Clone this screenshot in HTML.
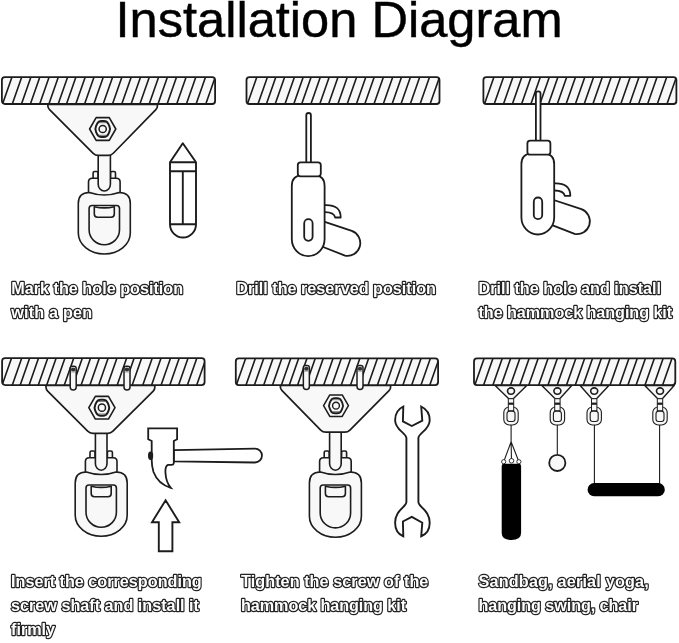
<!DOCTYPE html>
<html><head><meta charset="utf-8"><style>
html,body{margin:0;padding:0;background:#fff;width:679px;height:643px;overflow:hidden}
svg{display:block;will-change:transform}
.lb{font-family:"Liberation Sans",sans-serif;font-weight:bold;font-size:16.2px;fill:#fff;stroke:#222;stroke-width:2.4px;paint-order:stroke fill;stroke-linejoin:round}
</style></head><body>
<svg width="679" height="643" viewBox="0 0 679 643">
<defs><clipPath id="c0"><rect x="1.9" y="77.10000000000001" width="213.2" height="26.900000000000002" rx="3"/></clipPath><clipPath id="c1"><rect x="246.5" y="77.10000000000001" width="192.99999999999997" height="26.900000000000002" rx="3"/></clipPath><clipPath id="c2"><rect x="483.4" y="77.10000000000001" width="192.99999999999994" height="26.900000000000002" rx="3"/></clipPath><clipPath id="c3"><rect x="2.1" y="358.09999999999997" width="202.5" height="27.00000000000001" rx="3"/></clipPath><clipPath id="c4"><rect x="235.8" y="358.4" width="202.29999999999998" height="26.7" rx="3"/></clipPath><clipPath id="c5"><rect x="474.0" y="358.4" width="201.3" height="26.7" rx="3"/></clipPath></defs>
<text x="115.5" y="37" style="font-family:'Liberation Sans',sans-serif;font-size:50.6px" fill="#000" stroke="#000" stroke-width="0.45">Installation Diagram</text>
<g stroke="#1c1c1c" stroke-width="1.6" fill="#f8f8f8" stroke-linejoin="round"><path d="M78.3 203.5 Q78.3 192.5 89.3 192.5 L119.30000000000001 192.5 Q130.3 192.5 130.3 203.5 L130.3 233.0 A26 21 0 0 1 78.3 233.0 Z"/><path d="M89.1 208.5 Q89.1 205.5 92.1 205.5 L116.5 205.5 Q119.5 205.5 119.5 208.5 L119.5 229.7 A15.2 15 0 0 1 89.1 229.7 Z" fill="#f8f8f8"/><path d="M94.3 206.7 Q104.3 209.1 114.3 206.7 L114.3 214.0 Q114.3 217.2 111.1 217.2 L97.5 217.2 Q94.3 217.2 94.3 214.0 Z" fill="#f8f8f8"/><rect x="93.1" y="171.5" width="5" height="9" rx="1.5"/><rect x="110.5" y="171.5" width="5" height="9" rx="1.5"/><path d="M88.5 192.2 L88.5 182.0 Q88.5 178.2 92.3 178.2 L116.3 178.2 Q120.1 178.2 120.1 182.0 L120.1 192.2 Q104.3 197.7 88.5 192.2Z"/><path d="M98.2 150 L98.2 184.3 A6.1 6.71 0 0 0 110.39999999999999 184.3 L110.39999999999999 150" /></g>
<path d="M47.80 104.50Q47.80 104.50 47.80 104.50L157.40 104.50Q157.40 104.50 157.40 104.50L157.40 106.25Q157.40 108.00 155.86 109.58L113.29 153.25Q111.20 155.40 108.20 155.40L98.30 155.40Q95.30 155.40 93.18 153.28L49.55 109.56Q48.00 108.00 47.90 106.25Z" fill="#f8f8f8" stroke="#1c1c1c" stroke-width="1.7" stroke-linejoin="round"/>
<path d="M89.60 129.00L96.15 117.65L109.25 117.65L115.80 129.00L109.25 140.35L96.15 140.35Z" fill="#f8f8f8" stroke="#1c1c1c" stroke-width="1.6" stroke-linejoin="round"/>
<path d="M96.04 131.90Q94.70 129.00 96.04 126.10L97.06 123.90Q98.40 121.00 101.60 121.00L103.80 121.00Q107.00 121.00 108.34 123.90L109.36 126.10Q110.70 129.00 109.36 131.90L108.34 134.10Q107.00 137.00 103.80 137.00L101.60 137.00Q98.40 137.00 97.06 134.10Z" fill="#f8f8f8" stroke="#1c1c1c" stroke-width="2.0"/>
<path d="M98.7 122.7H106.7M98.7 135.3H106.7" stroke="#555" stroke-width="0.8"/>
<circle cx="102.7" cy="129.0" r="3.6" fill="#f8f8f8" stroke="#1c1c1c" stroke-width="1.5"/>
<rect x="1.9" y="77.10000000000001" width="213.2" height="26.900000000000002" rx="3" fill="#f8f8f8"/>
<path clip-path="url(#c0)" d="M1.18 107.90L13.32 73.20M10.93 107.90L23.07 73.20M20.13 107.90L32.27 73.20M29.03 107.90L41.17 73.20M38.33 107.90L50.47 73.20M47.53 107.90L59.67 73.20M56.83 107.90L68.97 73.20M65.13 107.90L77.27 73.20M74.43 107.90L86.58 73.20M83.23 107.90L95.38 73.20M92.53 107.90L104.67 73.20M101.83 107.90L113.97 73.20M111.13 107.90L123.27 73.20M120.43 107.90L132.58 73.20M129.73 107.90L141.88 73.20M138.53 107.90L150.68 73.20M147.83 107.90L159.98 73.20M156.63 107.90L168.78 73.20M165.73 107.90L177.88 73.20M175.33 107.90L187.48 73.20M185.03 107.90L197.18 73.20M194.73 107.90L206.88 73.20M204.43 107.90L216.58 73.20" stroke="#1c1c1c" stroke-width="1.6" fill="none"/>
<rect x="1.9" y="77.10000000000001" width="213.2" height="26.900000000000002" rx="3" fill="none" stroke="#1c1c1c" stroke-width="1.8"/>
<g stroke="#1c1c1c" stroke-width="1.9" fill="#ffffff" stroke-linejoin="round">
<path d="M170 162.3 L182.8 143.2 L196 162.3 L196 224.2 A13 13.3 0 0 1 170 224.2 Z"/>
<path d="M170 162.3H196M170 171.2H196M170 224.2H196M182.8 171.2V224.2" fill="none"/>
</g>
<rect x="246.5" y="77.10000000000001" width="192.99999999999997" height="26.900000000000002" rx="3" fill="#f8f8f8"/>
<path clip-path="url(#c1)" d="M246.03 107.90L258.18 73.20M256.63 107.90L268.78 73.20M265.03 107.90L277.18 73.20M273.83 107.90L285.98 73.20M283.63 107.90L295.78 73.20M292.43 107.90L304.57 73.20M300.33 107.90L312.48 73.20M309.53 107.90L321.68 73.20M318.43 107.90L330.57 73.20M327.23 107.90L339.38 73.20M336.53 107.90L348.68 73.20M345.83 107.90L357.98 73.20M355.03 107.90L367.18 73.20M363.43 107.90L375.57 73.20M372.63 107.90L384.78 73.20M381.93 107.90L394.07 73.20M390.73 107.90L402.88 73.20M399.63 107.90L411.78 73.20M408.93 107.90L421.07 73.20M418.73 107.90L430.88 73.20M428.73 107.90L440.88 73.20" stroke="#1c1c1c" stroke-width="1.6" fill="none"/>
<rect x="246.5" y="77.10000000000001" width="192.99999999999997" height="26.900000000000002" rx="3" fill="none" stroke="#1c1c1c" stroke-width="1.8"/>
<g transform="translate(0 0)" stroke="#1c1c1c" stroke-width="1.8" fill="#ffffff" stroke-linejoin="round">
<path d="M306.3 163 L306.3 115.3 A2.3 2.3 0 0 1 310.9 115.3 L310.9 163"/>
<path d="M318 219.7 L351.8 230.9 A12.85 12.85 0 0 1 345 255.6 L318 245 Z"/>
<path d="M325 205.1 Q340.7 204.5 340.7 217.5 L335.2 217.5 Q334 212.2 325 212.2" />
<path d="M291.8 186 Q291.8 175.3 302 175.3 L314.5 175.3 Q324.6 175.3 324.6 186 L324.6 239 A16.4 17.2 0 0 1 291.8 239 Z"/>
<rect x="304.2" y="219.2" width="8.4" height="21.6" rx="4.2"/>
<path d="M297.80 165.10Q297.80 162.30 300.60 162.30L318.00 162.30Q320.80 162.30 320.80 165.10L320.80 173.60Q320.80 176.40 318.00 176.40L300.60 176.40Q297.80 176.40 297.80 173.60Z"/>
</g>
<rect x="483.4" y="77.10000000000001" width="192.99999999999994" height="26.900000000000002" rx="3" fill="#f8f8f8"/>
<path clip-path="url(#c2)" d="M483.13 107.90L495.28 73.20M492.83 107.90L504.98 73.20M502.13 107.90L514.27 73.20M511.03 107.90L523.17 73.20M520.23 107.90L532.38 73.20M529.53 107.90L541.67 73.20M538.53 107.90L550.67 73.20M547.13 107.90L559.27 73.20M555.93 107.90L568.07 73.20M564.73 107.90L576.88 73.20M574.03 107.90L586.17 73.20M582.83 107.90L594.97 73.20M591.53 107.90L603.67 73.20M600.43 107.90L612.57 73.20M609.73 107.90L621.88 73.20M619.43 107.90L631.57 73.20M628.23 107.90L640.38 73.20M637.23 107.90L649.38 73.20M646.23 107.90L658.38 73.20M655.93 107.90L668.07 73.20M665.63 107.90L677.77 73.20" stroke="#1c1c1c" stroke-width="1.6" fill="none"/>
<rect x="483.4" y="77.10000000000001" width="192.99999999999994" height="26.900000000000002" rx="3" fill="none" stroke="#1c1c1c" stroke-width="1.8"/>
<g transform="translate(229.6 -21.7)" stroke="#1c1c1c" stroke-width="1.8" fill="#ffffff" stroke-linejoin="round">
<path d="M306.3 163 L306.3 115.3 A2.3 2.3 0 0 1 310.9 115.3 L310.9 163"/>
<path d="M318 219.7 L351.8 230.9 A12.85 12.85 0 0 1 345 255.6 L318 245 Z"/>
<path d="M325 205.1 Q340.7 204.5 340.7 217.5 L335.2 217.5 Q334 212.2 325 212.2" />
<path d="M291.8 186 Q291.8 175.3 302 175.3 L314.5 175.3 Q324.6 175.3 324.6 186 L324.6 239 A16.4 17.2 0 0 1 291.8 239 Z"/>
<rect x="304.2" y="219.2" width="8.4" height="21.6" rx="4.2"/>
<path d="M297.80 165.10Q297.80 162.30 300.60 162.30L318.00 162.30Q320.80 162.30 320.80 165.10L320.80 173.60Q320.80 176.40 318.00 176.40L300.60 176.40Q297.80 176.40 297.80 173.60Z"/>
</g>
<g stroke="#1c1c1c" stroke-width="1.6" fill="#f8f8f8" stroke-linejoin="round"><path d="M75.2 483.0 Q75.2 472.0 86.2 472.0 L116.2 472.0 Q127.2 472.0 127.2 483.0 L127.2 515.3 A26 21 0 0 1 75.2 515.3 Z"/><path d="M86.0 488.0 Q86.0 485.0 89.0 485.0 L113.4 485.0 Q116.4 485.0 116.4 488.0 L116.4 512.3 A15.2 15 0 0 1 86.0 512.3 Z" fill="#f8f8f8"/><path d="M91.2 486.2 Q101.2 488.6 111.2 486.2 L111.2 493.5 Q111.2 496.7 108.0 496.7 L94.4 496.7 Q91.2 496.7 91.2 493.5 Z" fill="#f8f8f8"/><rect x="90.0" y="451.0" width="5" height="9" rx="1.5"/><rect x="107.4" y="451.0" width="5" height="9" rx="1.5"/><path d="M85.4 471.7 L85.4 461.5 Q85.4 457.7 89.2 457.7 L113.2 457.7 Q117.0 457.7 117.0 461.5 L117.0 471.7 Q101.2 477.2 85.4 471.7Z"/><path d="M95.4 430 L95.4 463.8 A5.8 6.38 0 0 0 107.0 463.8 L107.0 430" /></g>
<path d="M45.90 385.50Q45.90 385.50 45.90 385.50L154.80 385.50Q154.80 385.50 154.80 385.50L154.80 387.50Q154.80 389.50 153.24 391.05L112.93 431.18Q110.80 433.30 107.80 433.30L92.80 433.30Q89.80 433.30 87.68 431.18L47.65 391.06Q46.10 389.50 46.00 387.50Z" fill="#f8f8f8" stroke="#1c1c1c" stroke-width="1.7" stroke-linejoin="round"/>
<path d="M88.80 407.70L95.35 396.35L108.45 396.35L115.00 407.70L108.45 419.05L95.35 419.05Z" fill="#f8f8f8" stroke="#1c1c1c" stroke-width="1.6" stroke-linejoin="round"/>
<path d="M95.24 410.60Q93.90 407.70 95.24 404.80L96.26 402.60Q97.60 399.70 100.80 399.70L103.00 399.70Q106.20 399.70 107.54 402.60L108.56 404.80Q109.90 407.70 108.56 410.60L107.54 412.80Q106.20 415.70 103.00 415.70L100.80 415.70Q97.60 415.70 96.26 412.80Z" fill="#f8f8f8" stroke="#1c1c1c" stroke-width="2.0"/>
<path d="M97.9 401.4H105.9M97.9 414.0H105.9" stroke="#555" stroke-width="0.8"/>
<circle cx="101.9" cy="407.7" r="3.6" fill="#f8f8f8" stroke="#1c1c1c" stroke-width="1.5"/>
<rect x="2.1" y="358.09999999999997" width="202.5" height="27.00000000000001" rx="3" fill="#f8f8f8"/>
<path clip-path="url(#c3)" d="M0.73 389.00L12.91 354.20M10.93 389.00L23.11 354.20M18.83 389.00L31.01 354.20M27.73 389.00L39.91 354.20M36.93 389.00L49.11 354.20M45.33 389.00L57.51 354.20M54.13 389.00L66.31 354.20M62.93 389.00L75.11 354.20M71.53 389.00L83.71 354.20M79.73 389.00L91.91 354.20M88.53 389.00L100.71 354.20M97.33 389.00L109.51 354.20M106.13 389.00L118.31 354.20M115.83 389.00L128.01 354.20M123.33 389.00L135.51 354.20M130.83 389.00L143.01 354.20M141.43 389.00L153.61 354.20M150.23 389.00L162.41 354.20M159.73 389.00L171.91 354.20M168.43 389.00L180.61 354.20M177.23 389.00L189.41 354.20M186.03 389.00L198.21 354.20M195.33 389.00L207.51 354.20" stroke="#1c1c1c" stroke-width="1.6" fill="none"/>
<rect x="2.1" y="358.09999999999997" width="202.5" height="27.00000000000001" rx="3" fill="none" stroke="#1c1c1c" stroke-width="1.8"/>
<path d="M70.2 387.0 L70.2 368.4 Q70.2 366.2 72.4 366.2 L74.0 366.2 Q76.2 366.2 76.2 368.4 L76.2 387.0 A3.0 3.0 0 0 1 70.2 387.0Z" fill="#f8f8f8" stroke="#1c1c1c" stroke-width="1.5"/>
<ellipse cx="73.2" cy="369.59999999999997" rx="2.3" ry="2.0" fill="#333" stroke="none"/>
<path d="M70.8 372.0H75.60000000000001" stroke="#777" stroke-width="0.7"/>
<path d="M124.0 387.0 L124.0 368.4 Q124.0 366.2 126.2 366.2 L127.8 366.2 Q130.0 366.2 130.0 368.4 L130.0 387.0 A3.0 3.0 0 0 1 124.0 387.0Z" fill="#f8f8f8" stroke="#1c1c1c" stroke-width="1.5"/>
<ellipse cx="127.0" cy="369.59999999999997" rx="2.3" ry="2.0" fill="#333" stroke="none"/>
<path d="M124.6 372.0H129.4" stroke="#777" stroke-width="0.7"/>
<g stroke="#1c1c1c" stroke-width="1.8" fill="#ffffff" stroke-linejoin="miter">
<path d="M173.8 450.1 L255 448.6 A6.95 6.95 0 0 1 255 462.5 L173.8 461.4 Z" stroke-linejoin="round"/>
<path d="M148.2 428.4 L177.1 428.4 L177.1 439.2 L173.8 441 L173.8 463.1 Q173.5 464.9 171.5 464.9 L168 464.9 Q165.2 466 165.4 472 Q165.8 482 170.8 487.8 Q158 484 153.5 472 Q151.7 466 151.7 460 L151.7 441 L148.2 439.2 Z"/>
<ellipse cx="150.6" cy="455.8" rx="2.6" ry="4.2" fill="#1c1c1c" stroke="none"/>
</g>
<path d="M165.6 500.3 L179.2 522.2 L172.4 522.2 L172.4 551.2 L158.8 551.2 L158.8 522.2 L152 522.2 Z" fill="#fff" stroke="#1c1c1c" stroke-width="1.9" stroke-linejoin="miter"/>
<g stroke="#1c1c1c" stroke-width="1.6" fill="#f8f8f8" stroke-linejoin="round"><path d="M309.4 483.0 Q309.4 472.0 320.4 472.0 L350.4 472.0 Q361.4 472.0 361.4 483.0 L361.4 516.2 A26 21 0 0 1 309.4 516.2 Z"/><path d="M320.2 488.0 Q320.2 485.0 323.2 485.0 L347.59999999999997 485.0 Q350.59999999999997 485.0 350.59999999999997 488.0 L350.59999999999997 512.9 A15.2 15 0 0 1 320.2 512.9 Z" fill="#f8f8f8"/><path d="M325.4 486.2 Q335.4 488.6 345.4 486.2 L345.4 493.5 Q345.4 496.7 342.2 496.7 L328.59999999999997 496.7 Q325.4 496.7 325.4 493.5 Z" fill="#f8f8f8"/><rect x="324.2" y="451.0" width="5" height="9" rx="1.5"/><rect x="341.59999999999997" y="451.0" width="5" height="9" rx="1.5"/><path d="M319.59999999999997 471.7 L319.59999999999997 461.5 Q319.59999999999997 457.7 323.4 457.7 L347.4 457.7 Q351.2 457.7 351.2 461.5 L351.2 471.7 Q335.4 477.2 319.59999999999997 471.7Z"/><path d="M329.59999999999997 430 L329.59999999999997 463.8 A5.8 6.38 0 0 0 341.2 463.8 L341.2 430" /></g>
<path d="M280.30 385.50Q280.30 385.50 280.30 385.50L390.60 385.50Q390.60 385.50 390.60 385.50L390.60 387.25Q390.60 389.00 389.05 390.56L349.91 430.07Q347.80 432.20 344.80 432.20L325.80 432.20Q322.80 432.20 320.70 430.06L282.04 390.57Q280.50 389.00 280.40 387.25Z" fill="#f8f8f8" stroke="#1c1c1c" stroke-width="1.7" stroke-linejoin="round"/>
<path d="M323.56 405.70L329.78 394.92L342.22 394.92L348.44 405.70L342.22 416.48L329.78 416.48Z" fill="#f8f8f8" stroke="#1c1c1c" stroke-width="1.52" stroke-linejoin="round"/>
<path d="M329.68 408.46Q328.40 405.70 329.68 402.94L330.64 400.86Q331.92 398.10 334.96 398.10L337.04 398.10Q340.08 398.10 341.36 400.86L342.32 402.94Q343.60 405.70 342.32 408.46L341.36 410.54Q340.08 413.30 337.04 413.30L334.96 413.30Q331.92 413.30 330.64 410.54Z" fill="#f8f8f8" stroke="#1c1c1c" stroke-width="1.9"/>
<path d="M332.2 399.715H339.8M332.2 411.685H339.8" stroke="#555" stroke-width="0.76"/>
<circle cx="336.0" cy="405.7" r="3.42" fill="#f8f8f8" stroke="#1c1c1c" stroke-width="1.4249999999999998"/>
<rect x="235.8" y="358.4" width="202.29999999999998" height="26.7" rx="3" fill="#f8f8f8"/>
<path clip-path="url(#c4)" d="M234.93 389.00L247.00 354.50M244.63 389.00L256.70 354.50M253.03 389.00L265.11 354.50M262.33 389.00L274.41 354.50M271.13 389.00L283.21 354.50M280.03 389.00L292.11 354.50M287.93 389.00L300.00 354.50M296.23 389.00L308.31 354.50M304.53 389.00L316.61 354.50M312.53 389.00L324.61 354.50M322.33 389.00L334.41 354.50M330.63 389.00L342.71 354.50M339.93 389.00L352.00 354.50M349.13 389.00L361.21 354.50M357.93 389.00L370.00 354.50M366.73 389.00L378.81 354.50M376.03 389.00L388.11 354.50M384.63 389.00L396.71 354.50M393.23 389.00L405.31 354.50M401.53 389.00L413.61 354.50M410.33 389.00L422.41 354.50M419.63 389.00L431.71 354.50M428.43 389.00L440.50 354.50" stroke="#1c1c1c" stroke-width="1.6" fill="none"/>
<rect x="235.8" y="358.4" width="202.29999999999998" height="26.7" rx="3" fill="none" stroke="#1c1c1c" stroke-width="1.8"/>
<path d="M303.35 386.5 L303.35 367.59999999999997 Q303.35 365.4 305.55 365.4 L307.15000000000003 365.4 Q309.35 365.4 309.35 367.59999999999997 L309.35 386.5 A3.0 3.0 0 0 1 303.35 386.5Z" fill="#f8f8f8" stroke="#1c1c1c" stroke-width="1.5"/>
<ellipse cx="306.35" cy="368.79999999999995" rx="2.3" ry="2.0" fill="#333" stroke="none"/>
<path d="M303.95000000000005 371.2H308.75" stroke="#777" stroke-width="0.7"/>
<path d="M357.0 386.5 L357.0 367.59999999999997 Q357.0 365.4 359.2 365.4 L360.8 365.4 Q363.0 365.4 363.0 367.59999999999997 L363.0 386.5 A3.0 3.0 0 0 1 357.0 386.5Z" fill="#f8f8f8" stroke="#1c1c1c" stroke-width="1.5"/>
<ellipse cx="360.0" cy="368.79999999999995" rx="2.3" ry="2.0" fill="#333" stroke="none"/>
<path d="M357.6 371.2H362.4" stroke="#777" stroke-width="0.7"/>
<path d="M406.4 438 C406.4 433 395.1 430 395.1 420.2 C395.1 413 398 409 403.3 406.5 L402.9 421.4 L411.8 426 L422.3 420.6 L421.2 406.5 C426.5 409 429.7 413 429.7 420.2 C429.7 430 418.4 433 418.4 438 L418.4 502 C418.4 507 429.7 510 429.7 522.7 C429.7 530 426.5 534 421.2 536.3 L422.3 522.7 L411.8 516.8 L402.9 521.5 L403.3 536.3 C398 534 395.1 530 395.1 522.7 C395.1 510 406.4 507 406.4 502 Z" fill="#fff" stroke="#1c1c1c" stroke-width="1.9" stroke-linejoin="miter" stroke-miterlimit="3"/>
<rect x="474.0" y="358.4" width="201.3" height="26.7" rx="3" fill="#f8f8f8"/>
<path clip-path="url(#c5)" d="M473.43 389.00L485.50 354.50M482.23 389.00L494.31 354.50M491.53 389.00L503.61 354.50M499.93 389.00L512.00 354.50M509.13 389.00L521.21 354.50M518.43 389.00L530.50 354.50M527.43 389.00L539.50 354.50M537.33 389.00L549.40 354.50M546.63 389.00L558.71 354.50M555.83 389.00L567.90 354.50M565.13 389.00L577.21 354.50M573.93 389.00L586.00 354.50M581.83 389.00L593.90 354.50M590.63 389.00L602.71 354.50M599.43 389.00L611.50 354.50M608.73 389.00L620.81 354.50M618.23 389.00L630.31 354.50M626.53 389.00L638.61 354.50M634.73 389.00L646.81 354.50M643.63 389.00L655.71 354.50M652.43 389.00L664.50 354.50M661.23 389.00L673.31 354.50" stroke="#1c1c1c" stroke-width="1.6" fill="none"/>
<rect x="474.0" y="358.4" width="201.3" height="26.7" rx="3" fill="none" stroke="#1c1c1c" stroke-width="1.8"/>
<g stroke="#1c1c1c" fill="#f8f8f8">
<path d="M495.1 385.5 L526.8 385.5 L514.0 398 Q511.0 400 508.0 398 Z" stroke-width="1.4" stroke-linejoin="round"/>
<ellipse cx="511.0" cy="391.1" rx="3.5" ry="3.2" stroke-width="1.6" fill="#f8f8f8"/>
<rect x="503.8" y="407" width="14.4" height="18" rx="5.5" stroke-width="1.1" fill="#f8f8f8"/>
<rect x="507.0" y="411.3" width="8" height="10.2" rx="2.5" stroke-width="1.1" fill="#f8f8f8"/>
<rect x="508.3" y="398.7" width="5.4" height="12" stroke-width="1" fill="#f8f8f8"/>
<rect x="508.3" y="402.6" width="5.4" height="2.2" stroke="none" fill="#1c1c1c"/>
</g>
<g stroke="#1c1c1c" fill="#f8f8f8">
<path d="M541.8 385.5 L571.8 385.5 L560.4 398 Q557.4 400 554.4 398 Z" stroke-width="1.4" stroke-linejoin="round"/>
<ellipse cx="557.4" cy="391.1" rx="3.5" ry="3.2" stroke-width="1.6" fill="#f8f8f8"/>
<rect x="550.1999999999999" y="407" width="14.4" height="18" rx="5.5" stroke-width="1.1" fill="#f8f8f8"/>
<rect x="553.4" y="411.3" width="8" height="10.2" rx="2.5" stroke-width="1.1" fill="#f8f8f8"/>
<rect x="554.6999999999999" y="398.7" width="5.4" height="12" stroke-width="1" fill="#f8f8f8"/>
<rect x="554.6999999999999" y="402.6" width="5.4" height="2.2" stroke="none" fill="#1c1c1c"/>
</g>
<g stroke="#1c1c1c" fill="#f8f8f8">
<path d="M580.1 385.5 L608.9 385.5 L597.2 398 Q594.2 400 591.2 398 Z" stroke-width="1.4" stroke-linejoin="round"/>
<ellipse cx="594.2" cy="391.1" rx="3.5" ry="3.2" stroke-width="1.6" fill="#f8f8f8"/>
<rect x="587.0" y="407" width="14.4" height="18" rx="5.5" stroke-width="1.1" fill="#f8f8f8"/>
<rect x="590.2" y="411.3" width="8" height="10.2" rx="2.5" stroke-width="1.1" fill="#f8f8f8"/>
<rect x="591.5" y="398.7" width="5.4" height="12" stroke-width="1" fill="#f8f8f8"/>
<rect x="591.5" y="402.6" width="5.4" height="2.2" stroke="none" fill="#1c1c1c"/>
</g>
<g stroke="#1c1c1c" fill="#f8f8f8">
<path d="M644.7 385.5 L674.2 385.5 L663.0 398 Q660.0 400 657.0 398 Z" stroke-width="1.4" stroke-linejoin="round"/>
<ellipse cx="660.0" cy="391.1" rx="3.5" ry="3.2" stroke-width="1.6" fill="#f8f8f8"/>
<rect x="652.8" y="407" width="14.4" height="18" rx="5.5" stroke-width="1.1" fill="#f8f8f8"/>
<rect x="656.0" y="411.3" width="8" height="10.2" rx="2.5" stroke-width="1.1" fill="#f8f8f8"/>
<rect x="657.3" y="398.7" width="5.4" height="12" stroke-width="1" fill="#f8f8f8"/>
<rect x="657.3" y="402.6" width="5.4" height="2.2" stroke="none" fill="#1c1c1c"/>
</g>
<g stroke="#1c1c1c" stroke-width="1.1" fill="none">
<path d="M511.1 425 V441.8 M511.1 441.8 L503.7 461.7 M511.1 441.8 L511.5 460.8 M511.1 441.8 L518.9 461.7"/>
<path d="M557.3 425 V454"/>
<path d="M594.4 425 V484 M659.6 425 V484"/>
</g>
<path d="M501.7 466 Q501.7 463.7 504 463.7 L518.8 463.7 Q521.1 463.7 521.1 466 L521.1 533 Q521.1 540 511.4 540 Q501.7 540 501.7 533 Z" fill="#000"/>
<circle cx="503.7" cy="461.7" r="2.1" fill="#fff" stroke="#1c1c1c" stroke-width="0.9"/>
<circle cx="511.5" cy="460.8" r="2.3" fill="#fff" stroke="#1c1c1c" stroke-width="0.9"/>
<circle cx="518.9" cy="461.7" r="2.1" fill="#fff" stroke="#1c1c1c" stroke-width="0.9"/>
<circle cx="557.3" cy="462.9" r="8.1" fill="#f8f8f8" stroke="#1c1c1c" stroke-width="1.8"/>
<rect x="587.6" y="483.1" width="77.2" height="13.1" rx="6.55" fill="#000"/>
<text x="11.3" y="293.9" class="lb">Mark the hole position</text>
<text x="11.3" y="317.9" class="lb" letter-spacing="0.178">with a pen</text>
<text x="236.3" y="293.9" class="lb">Drill the reserved position</text>
<text x="478.5" y="293.9" class="lb">Drill the hole and install</text>
<text x="478.5" y="317.9" class="lb" letter-spacing="-0.068">the hammock hanging kit</text>
<text x="11.0" y="586.7" class="lb">Insert the corresponding</text>
<text x="11.0" y="610.7" class="lb">screw shaft and install it</text>
<text x="11.0" y="634.7" class="lb">firmly</text>
<text x="241.0" y="586.7" class="lb" letter-spacing="0.065">Tighten the screw of the</text>
<text x="241.0" y="610.7" class="lb" letter-spacing="-0.072">hammock hanging kit</text>
<text x="478.5" y="586.7" class="lb" letter-spacing="0.190">Sandbag, aerial yoga,</text>
<text x="478.5" y="610.7" class="lb" letter-spacing="-0.079">hanging swing, chair</text>
</svg></body></html>
